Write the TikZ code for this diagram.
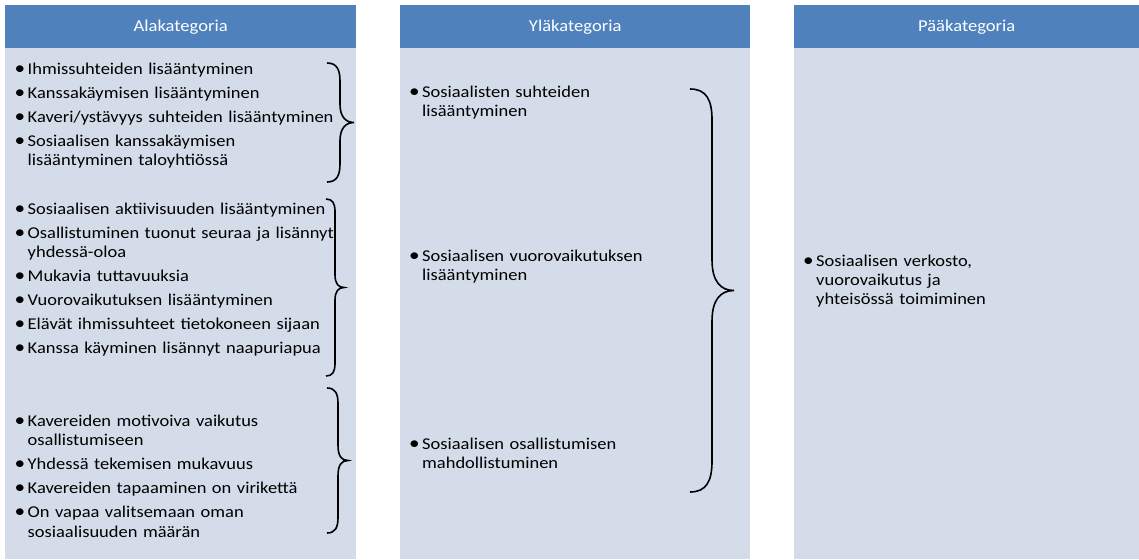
\documentclass[tikz,border=0pt]{standalone}
\usepackage{fontspec}
\setmainfont{Carlito}[FakeStretch=1.12]
\definecolor{hdblue}{HTML}{4F81BD}
\definecolor{bodyblue}{HTML}{D4DCEA}
% one bullet item with a hanging indent; lines are broken by hand
\newcommand\bitem[1]{\hangindent=11.5pt\hangafter=1\noindent\makebox[11.5pt][l]{\hspace{-1.5pt}\scalebox{1.15}{\textbullet}}#1\par\vspace{4.7pt}}
% header caption, lowered a little inside its bar
\newcommand\headtext[1]{\raisebox{-2.5pt}{#1}}
% right curly brace: #1 end x, #2 stem x, #3 tip x, #4 top y, #5 bottom y
\newcommand\drawbrace[5]{%
  \pgfmathsetmacro\bm{(#4+#5)/2}%
  \pgfmathsetmacro\br{#2-#1}%
  \draw[bracepen] (#1,#4)
    .. controls ({#1+0.75*\br},#4) and (#2,{#4+0.5*\br}) .. (#2,{#4+1.4*\br})
    -- (#2,{\bm-1.4*\br})
    .. controls (#2,{\bm-0.4*\br}) and ({#3-0.6*\br},\bm) .. (#3,\bm)
    .. controls ({#3-0.6*\br},\bm) and (#2,{\bm+0.4*\br}) .. (#2,{\bm+1.4*\br})
    -- (#2,{#5-1.4*\br})
    .. controls (#2,{#5-0.5*\br}) and ({#1+0.75*\br},#5) .. (#1,#5);}
\begin{document}
\begin{tikzpicture}[x=1pt,y=-1pt,
  head/.style={fill=hdblue, draw=none, text=white, inner sep=0pt,
    anchor=north west, minimum height=43pt,
    font=\fontsize{16.6}{20}\selectfont},
  panel/.style={fill=bodyblue, draw=none, inner sep=0pt,
    anchor=north west, minimum height=511pt},
  items/.style={anchor=base west, inner sep=0pt, text width=340pt,
    align=left, font=\fontsize{16.5}{19.3}\selectfont},
  bracepen/.style={draw=black, line width=1.6pt}]
\useasboundingbox (0,0) rectangle (1139,559);
\fill[white] (0,0) rectangle (1139,559);

% three columns: header bar over a tall panel
\node[panel, minimum width=351pt] (p1) at (5,48) {};
\node[panel, minimum width=350pt] (p2) at (400,48) {};
\node[panel, minimum width=345pt] (p3) at (794,48) {};
\node[head, minimum width=351pt] (h1) at (5,5) {\headtext{Alakategoria}};
\node[head, minimum width=350pt] (h2) at (400,5) {\headtext{Yläkategoria}};
\node[head, minimum width=345pt] (h3) at (794,5) {\headtext{Pääkategoria}};

% sub-categories
\node[items] (a1) at (16,74.5) {%
  \bitem{Ihmissuhteiden lisääntyminen}
  \bitem{Kanssakäymisen lisääntyminen}
  \bitem{Kaveri/ystävyys suhteiden lisääntyminen}
  \bitem{Sosiaalisen kanssakäymisen\newline lisääntyminen taloyhtiössä}};
\node[items] (a2) at (16,214) {%
  \bitem{Sosiaalisen aktiivisuuden lisääntyminen}
  \bitem{Osallistuminen tuonut seuraa ja lisännyt\newline yhdessä-oloa}
  \bitem{Mukavia tuttavuuksia}
  \bitem{Vuorovaikutuksen lisääntyminen}
  \bitem{Elävät ihmissuhteet tietokoneen sijaan}
  \bitem{Kanssa käyminen lisännyt naapuriapua}};
\node[items] (a3) at (16,426.5) {%
  \bitem{Kavereiden motivoiva vaikutus\newline osallistumiseen}
  \bitem{Yhdessä tekemisen mukavuus}
  \bitem{Kavereiden tapaaminen on virikettä}
  \bitem{On vapaa valitsemaan oman\newline sosiaalisuuden määrän}};

% upper categories
\node[items] (y1) at (410.5,97.5) {\bitem{Sosiaalisten suhteiden\newline lisääntyminen}};
\node[items] (y2) at (410.5,261.5) {\bitem{Sosiaalisen vuorovaikutuksen\newline lisääntyminen}};
\node[items] (y3) at (410.5,449.5) {\bitem{Sosiaalisen osallistumisen\newline mahdollistuminen}};

% main category
\node[items] (m1) at (804.5,266) {\bitem{Sosiaalisen verkosto,\newline vuorovaikutus ja\newline yhteisössä toimiminen}};

% grouping braces
\drawbrace{327}{340}{354}{63}{182}
\drawbrace{326}{335}{344}{199}{376}
\drawbrace{327}{338}{348}{388}{533}
\drawbrace{690}{712}{734}{89}{492}
\end{tikzpicture}
\end{document}
